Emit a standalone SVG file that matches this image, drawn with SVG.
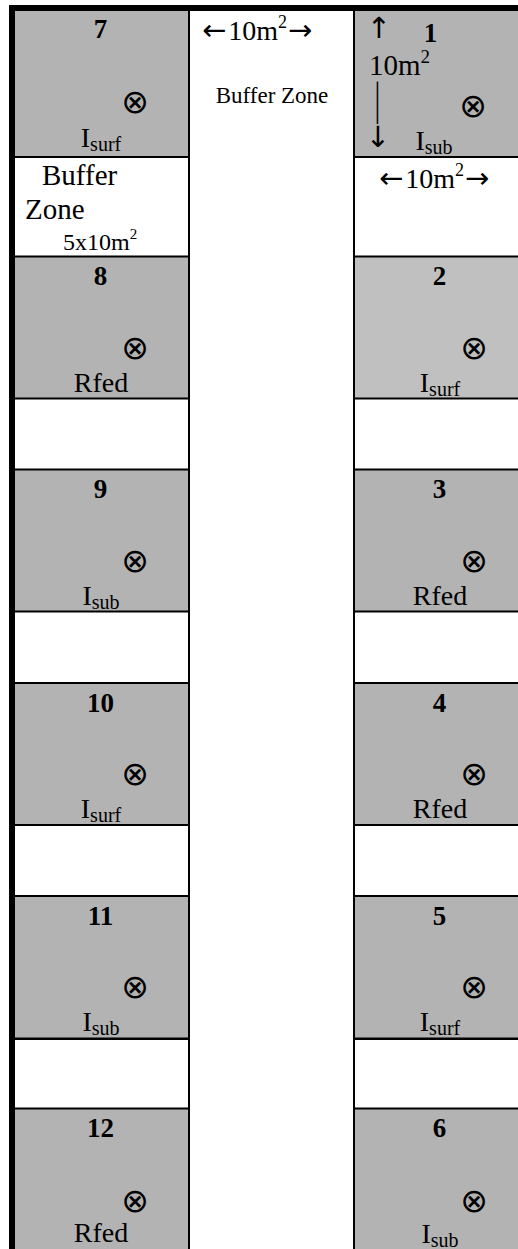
<svg xmlns="http://www.w3.org/2000/svg" width="518" height="1249" viewBox="0 0 518 1249">
<style>
text{font-family:"Liberation Serif","Times New Roman",serif;fill:#000}
.num{font-size:27px;font-weight:bold;text-anchor:middle}
.lbl{font-size:28px;text-anchor:middle}
.sub{font-size:20px}
.sup{font-size:18px}
.arr{font-family:"DejaVu Sans",sans-serif;font-size:29px}
.ox{font-family:"DejaVu Sans",sans-serif;font-size:33px;text-anchor:middle}
.cell{fill:#b3b3b3}
.light{fill:#c0c0c0}
.ln{fill:#000}
</style>
<rect x="0" y="0" width="518" height="1249" fill="#fff"/>
<g id="cells-fill">
<rect class="cell" x="15" y="11" width="173" height="145"/>
<rect class="cell" x="355" y="11" width="163" height="145"/>
<rect class="cell" x="15" y="256" width="173" height="142"/>
<rect class="light" x="355" y="256" width="163" height="142"/>
<rect class="cell" x="15" y="469" width="173" height="142"/>
<rect class="cell" x="355" y="469" width="163" height="142"/>
<rect class="cell" x="15" y="683" width="173" height="142"/>
<rect class="cell" x="355" y="683" width="163" height="142"/>
<rect class="cell" x="15" y="896" width="173" height="142"/>
<rect class="cell" x="355" y="896" width="163" height="142"/>
<rect class="cell" x="15" y="1108" width="173" height="141"/>
<rect class="cell" x="355" y="1108" width="163" height="141"/>
</g>
<g id="connectors">
<rect class="ln" x="9" y="5" width="509" height="6"/>
<rect class="ln" x="9" y="5" width="6" height="1244"/>
<rect class="ln" x="188" y="11" width="2" height="1238"/>
<rect class="ln" x="353" y="11" width="2" height="1238"/>
<g id="hlines">
<rect class="ln" x="15" y="156" width="173" height="2"/><rect class="ln" x="355" y="156" width="163" height="2"/>
<rect class="ln" x="15" y="255.5" width="173" height="2"/><rect class="ln" x="355" y="255.5" width="163" height="2"/>
<rect class="ln" x="15" y="397.5" width="173" height="2"/><rect class="ln" x="355" y="397.5" width="163" height="2"/>
<rect class="ln" x="15" y="468.5" width="173" height="2"/><rect class="ln" x="355" y="468.5" width="163" height="2"/>
<rect class="ln" x="15" y="610.5" width="173" height="2"/><rect class="ln" x="355" y="610.5" width="163" height="2"/>
<rect class="ln" x="15" y="682" width="173" height="2"/><rect class="ln" x="355" y="682" width="163" height="2"/>
<rect class="ln" x="15" y="824" width="173" height="2"/><rect class="ln" x="355" y="824" width="163" height="2"/>
<rect class="ln" x="15" y="895" width="173" height="2"/><rect class="ln" x="355" y="895" width="163" height="2"/>
<rect class="ln" x="15" y="1037.5" width="173" height="2.5"/><rect class="ln" x="355" y="1037.5" width="163" height="2.5"/>
<rect class="ln" x="15" y="1107.5" width="173" height="2"/><rect class="ln" x="355" y="1107.5" width="163" height="2"/>
</g>
</g>
<g id="middle-buffer">
<text x="202" y="40" font-size="28"><tspan class="arr">←</tspan><tspan dx="2">10m</tspan><tspan class="sup" dy="-12">2</tspan><tspan class="arr" dy="12" dx="1">→</tspan></text>
<text x="272" y="103" font-size="23" text-anchor="middle">Buffer Zone</text>
</g>
<g id="cell-7">
<text class="num" x="100.5" y="38">7</text>
<text class="ox" x="135" y="113">⊗</text>
<text class="lbl" x="101" y="147">I<tspan class="sub" dy="4">surf</tspan></text>
</g>
<g id="left-buffer">
<text x="42" y="185" font-size="29">Buffer</text>
<text x="25" y="219" font-size="29">Zone</text>
<text x="63" y="250" font-size="24">5x10m<tspan font-size="15" dy="-11">2</tspan></text>
</g>
<g id="cell-1">
<text class="arr" x="379" y="38" text-anchor="middle">↑</text>
<text class="num" x="430.5" y="42">1</text>
<text x="369" y="75" font-size="29">10m<tspan font-size="19" dy="-12">2</tspan></text>
<text x="377.5" y="114" font-size="29" text-anchor="middle" transform="translate(0,-65) scale(1,1.57)">|</text>
<text class="arr" x="378" y="147" text-anchor="middle">↓</text>
<text class="ox" x="473" y="117">⊗</text>
<text class="lbl" x="434" y="150">I<tspan class="sub" dy="4">sub</tspan></text>
</g>
<g id="right-buffer">
<text x="379" y="188" font-size="28"><tspan class="arr">←</tspan><tspan dx="2">10m</tspan><tspan class="sup" dy="-12">2</tspan><tspan class="arr" dy="12" dx="1">→</tspan></text>
</g>
<g id="cell-8">
<text class="num" x="100.5" y="285">8</text>
<text class="ox" x="135" y="358.5">⊗</text>
<text class="lbl" x="101" y="392">Rfed</text>
</g>
<g id="cell-2">
<text class="num" x="439.5" y="285">2</text>
<text class="ox" x="474" y="358.5">⊗</text>
<text class="lbl" x="440" y="392">I<tspan class="sub" dy="4">surf</tspan></text>
</g>
<g id="cell-9">
<text class="num" x="100.5" y="498">9</text>
<text class="ox" x="135" y="571.5">⊗</text>
<text class="lbl" x="101" y="605">I<tspan class="sub" dy="4">sub</tspan></text>
</g>
<g id="cell-3">
<text class="num" x="439.5" y="498">3</text>
<text class="ox" x="474" y="571.5">⊗</text>
<text class="lbl" x="440" y="605">Rfed</text>
</g>
<g id="cell-10">
<text class="num" x="100.5" y="711.5">10</text>
<text class="ox" x="135" y="785">⊗</text>
<text class="lbl" x="101" y="818">I<tspan class="sub" dy="4">surf</tspan></text>
</g>
<g id="cell-4">
<text class="num" x="439.5" y="711.5">4</text>
<text class="ox" x="474" y="785">⊗</text>
<text class="lbl" x="440" y="818">Rfed</text>
</g>
<g id="cell-11">
<text class="num" x="100.5" y="924.5">11</text>
<text class="ox" x="135" y="998">⊗</text>
<text class="lbl" x="101" y="1031">I<tspan class="sub" dy="4">sub</tspan></text>
</g>
<g id="cell-5">
<text class="num" x="439.5" y="924.5">5</text>
<text class="ox" x="474" y="998">⊗</text>
<text class="lbl" x="440" y="1031">I<tspan class="sub" dy="4">surf</tspan></text>
</g>
<g id="cell-12">
<text class="num" x="100.5" y="1137">12</text>
<text class="ox" x="135" y="1211.5">⊗</text>
<text class="lbl" x="101" y="1242">Rfed</text>
</g>
<g id="cell-6">
<text class="num" x="439.5" y="1137">6</text>
<text class="ox" x="474" y="1211.5">⊗</text>
<text class="lbl" x="440" y="1243">I<tspan class="sub" dy="4">sub</tspan></text>
</g>
</svg>
